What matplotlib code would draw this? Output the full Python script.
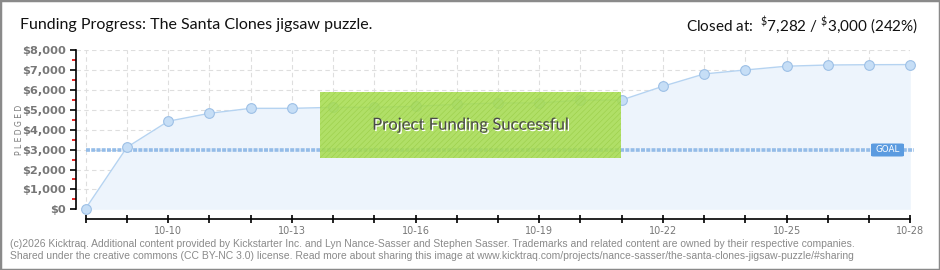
import matplotlib

matplotlib.use("Agg")
import matplotlib.pyplot as plt
import matplotlib.patheffects as pe
from matplotlib.patches import Rectangle, FancyBboxPatch
from matplotlib.ticker import MultipleLocator, FuncFormatter


TITLE = "Funding Progress: The Santa Clones jigsaw puzzle."
DATES = ["10-08", "10-09", "10-10", "10-11", "10-12", "10-13", "10-14",
         "10-15", "10-16", "10-17", "10-18", "10-19", "10-20", "10-21",
         "10-22", "10-23", "10-24", "10-25", "10-26", "10-27", "10-28"]
PLEDGED = [40, 3120, 4430, 4830, 5080, 5080, 5130,
           5130, 5180, 5280, 5350, 5350, 5490, 5500,
           6190, 6810, 7010, 7200, 7260, 7275, 7282]
LABELED_DATES = ["10-10", "10-13", "10-16", "10-19", "10-22", "10-25", "10-28"]
GOAL = 3000
CLOSED_AT = 7282
FOOTER = [
    "(c)2026 Kicktraq. Additional content provided by Kickstarter Inc. and Lyn "
    "Nance-Sasser and Stephen Sasser. Trademarks and related content are owned "
    "by their respective companies.",
    "Shared under the creative commons (CC BY-NC 3.0) license. Read more about "
    "sharing this image at www.kicktraq.com/projects/nance-sasser/"
    "the-santa-clones-jigsaw-puzzle/#sharing",
]

W, H = 940, 270
HEAD = ["Lato", "DejaVu Sans"]


def px(x, y):
    # pixel (from top-left) -> figure fraction
    return x / W, 1 - y / H


fig = plt.figure(figsize=(W / 100, H / 100), dpi=100)
fig.patch.set_facecolor("white")

# outer frame
fig.add_artist(Rectangle((0, 0), 1, 1, transform=fig.transFigure,
                         facecolor="none", edgecolor="#8a8a8a", linewidth=2.5))

# axes geometry: spine at x=76, day 0 at 85.7, day 20 at 910.3
day_px = (910.3 - 85.7) / 20
left_px, right_px = 76, 910.3
top_px, bottom_px = 50.3, 209.3
ax = fig.add_axes([left_px / W, 1 - bottom_px / H,
                   (right_px - left_px) / W, (bottom_px - top_px) / H])
n = len(DATES)
x = list(range(n))
ax.set_xlim(-(85.7 - left_px) / day_px, n - 1)
ax.set_ylim(0, 8000)

ax.fill_between(x, PLEDGED, 0, color="#edf4fc", linewidth=0, zorder=1)
ax.plot(x, PLEDGED, color="#b5d3f1", linewidth=1, zorder=3, clip_on=False)
ax.plot(x, PLEDGED, linestyle="none", marker="o", markersize=7,
        markerfacecolor="#c6def6", markeredgecolor="#9dc0e6",
        markeredgewidth=0.8, zorder=4, clip_on=False)

ax.axhline(GOAL, xmin=(85.7 - left_px) / (right_px - left_px), xmax=1.004,
           color="#94bce8", linewidth=2.6, linestyle=(0, (1.1, 0.35)),
           zorder=2, clip_on=False)

# grid
ax.set_xticks(x)
ax.grid(True, color="#dedede", linestyle=(0, (4, 3)), linewidth=0.8, zorder=0)
ax.set_axisbelow(True)

# spines
for side in ["top", "right"]:
    ax.spines[side].set_visible(False)
ax.spines["left"].set_color("black")
ax.spines["left"].set_linewidth(1.2)
ax.spines["bottom"].set_position(("outward", 7.2))
ax.spines["bottom"].set_bounds(0, n - 1)
ax.spines["bottom"].set_linewidth(1.2)

ax.yaxis.set_major_locator(MultipleLocator(1000))
ax.yaxis.set_minor_locator(MultipleLocator(500))
ax.yaxis.set_major_formatter(FuncFormatter(lambda v, p: f"${v:,.0f}"))
ax.tick_params(axis="y", which="major", direction="out", length=4, width=1.2,
               color="black", pad=3, labelsize=8.2, labelcolor="#777777")
ax.tick_params(axis="y", which="minor", direction="out", length=3, width=1.2,
               color="#e00000")
ax.set_xticklabels([d if d in LABELED_DATES else "" for d in DATES])
ax.tick_params(axis="x", which="major", direction="inout", length=6, width=1.2,
               pad=2, labelsize=7, labelcolor="#777777")
for lab in ax.get_yticklabels():
    lab.set_fontweight("bold")

fig.text(*px(19, 130), "P L E D G E D", rotation=90, ha="center", va="center",
         fontsize=5.5, color="#777777")

# success banner
x0 = (320 - 85.7) / day_px
x1 = (621 - 85.7) / day_px
y0 = (209.3 - 157.7) / ((209.3 - 50.3) / 8000)
y1 = (209.3 - 91.7) / ((209.3 - 50.3) / 8000)
plt.rcParams["hatch.linewidth"] = 0.4
ax.add_patch(Rectangle((x0, y0), x1 - x0, y1 - y0, facecolor="#a6dc4e",
                       edgecolor="#98cc44", hatch="//////", linewidth=0,
                       alpha=0.86, zorder=6))
ax.text((x0 + x1) / 2, (y0 + y1) / 2, "Project Funding Successful",
        ha="center", va="center", fontsize=12, color="#4a4a4a",
        family=HEAD, zorder=7,
        path_effects=[pe.withSimplePatchShadow(offset=(1, -1),
                                               shadow_rgbFace="white", alpha=1)])

# goal tag
ax.add_artist(FancyBboxPatch(px(871, 156.5), 33 / W, 13 / H,
                             boxstyle="round,pad=0,rounding_size=0.003",
                             transform=fig.transFigure, facecolor="#5b9be0",
                             edgecolor="none", zorder=8))
fig.text(*px(887.5, 150), "GOAL", ha="center", va="center", fontsize=6.3,
         color="white", zorder=9)

# titles
fig.text(*px(20, 25), TITLE, ha="left", va="center", fontsize=11.5,
         family=HEAD, color="#111111")
plt.rcParams["mathtext.fontset"] = "custom"
plt.rcParams["mathtext.rm"] = "Lato"
fig.text(*px(918, 25),
         r"Closed at:  $^{\$}$" + f"{CLOSED_AT:,}" + r" / $^{\$}$"
         + f"{GOAL:,} ({int(CLOSED_AT / GOAL * 100)}%)",
         ha="right", va="center", fontsize=11, family=HEAD, color="#111111")

for i, line in enumerate(FOOTER):
    fig.text(*px(10, 244 + 12 * i), line, ha="left", va="center",
             fontsize=7.5, color="#8a8a8a", family=["Liberation Sans", "DejaVu Sans"])

fig.savefig("out.png", dpi=100)
